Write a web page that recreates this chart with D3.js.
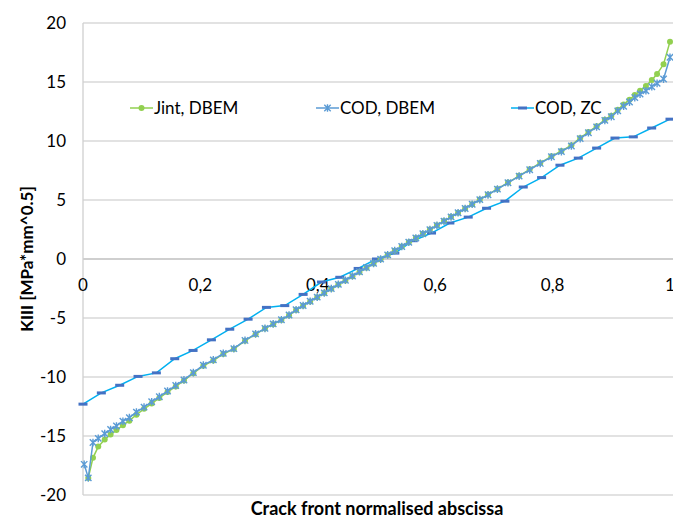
<!DOCTYPE html>
<html>
<head>
<meta charset="utf-8">
<script src="https://cdn.jsdelivr.net/npm/d3@7"></script>
<style>
  body { margin: 0; background: #fff; }
  svg { display: block; font-family: Lato, "Open Sans", sans-serif; }
</style>
</head>
<body>
<svg id="chart"></svg>
<script>
// crack front abscissa, shared by the two DBEM series
const xDbem = [0.009, 0.017, 0.026, 0.037, 0.047, 0.057, 0.068, 0.079, 0.091, 0.104,
  0.117, 0.130, 0.144, 0.158, 0.172, 0.188, 0.205, 0.222, 0.239, 0.257,
  0.276, 0.294, 0.310, 0.324, 0.338, 0.351, 0.363, 0.375, 0.387, 0.399,
  0.411, 0.423, 0.435, 0.447, 0.459, 0.471, 0.483, 0.495, 0.507, 0.519,
  0.531, 0.543, 0.555, 0.567, 0.579, 0.591, 0.603, 0.615, 0.627, 0.639,
  0.651, 0.663, 0.676, 0.690, 0.706, 0.724, 0.743, 0.761, 0.779, 0.798,
  0.815, 0.832, 0.847, 0.861, 0.875, 0.889, 0.900, 0.911, 0.921, 0.931,
  0.940, 0.949, 0.959, 0.969, 0.978, 0.989, 1.0];

const jintDbem = [-18.55, -16.85, -15.9, -15.3, -14.88, -14.5, -14.08, -13.7, -13.2, -12.7,
  -12.25, -11.78, -11.28, -10.8, -10.3, -9.68, -9.05, -8.6, -8.05, -7.62,
  -6.93, -6.37, -5.9, -5.52, -5.17, -4.77, -4.33, -3.96, -3.6, -3.25,
  -2.89, -2.53, -2.17, -1.82, -1.46, -1.1, -0.74, -0.38, -0.02, 0.34,
  0.7, 1.05, 1.41, 1.77, 2.13, 2.49, 2.85, 3.21, 3.57, 3.93,
  4.29, 4.65, 5.04, 5.46, 5.94, 6.48, 7.05, 7.6, 8.14, 8.7,
  9.15, 9.64, 10.26, 10.76, 11.26, 11.8, 12.15, 12.65, 13.1, 13.5,
  13.9, 14.25, 14.66, 15.17, 15.68, 16.5, 18.42];

// COD, DBEM has one extra node near x = 0
const xCod = [0.002].concat(xDbem);
const codDbem = [-17.4, -18.55, -15.55, -15.2, -14.8, -14.45, -14.15, -13.75, -13.45, -12.98, -12.55,
  -12.1, -11.67, -11.19, -10.72, -10.25, -9.63, -9.0, -8.55, -8.0, -7.6,
  -6.9, -6.35, -5.88, -5.5, -5.15, -4.75, -4.3, -3.94, -3.58, -3.23,
  -2.87, -2.51, -2.15, -1.8, -1.44, -1.08, -0.72, -0.37, -0.01, 0.35,
  0.71, 1.06, 1.42, 1.78, 2.14, 2.49, 2.85, 3.21, 3.57, 3.92,
  4.28, 4.64, 5.03, 5.44, 5.92, 6.46, 7.02, 7.56, 8.1, 8.66,
  9.1, 9.58, 10.2, 10.7, 11.2, 11.75, 12.06, 12.55, 12.95, 13.3,
  13.68, 13.98, 14.26, 14.6, 14.89, 15.25, 17.1];

// COD, ZC: 33 points
const xZc = [0, 0.03125, 0.0625, 0.09375, 0.125, 0.15625, 0.1875, 0.21875, 0.25, 0.28125,
  0.3125, 0.34375, 0.375, 0.40625, 0.4375, 0.46875, 0.5, 0.53125, 0.5625, 0.59375,
  0.625, 0.65625, 0.6875, 0.71875, 0.75, 0.78125, 0.8125, 0.84375, 0.875, 0.90625,
  0.9375, 0.96875, 1.0];
const codZc = [-12.3, -11.35, -10.7, -9.95, -9.65, -8.45, -7.75, -6.85, -5.95, -5.1,
  -4.1, -3.95, -3.0, -1.95, -1.55, -0.8, 0.0, 0.5, 1.55, 2.2,
  3.05, 3.55, 4.3, 4.9, 6.1, 6.9, 7.95, 8.55, 9.4, 10.25,
  10.35, 11.1, 11.85];

const yTicks = [-20, -15, -10, -5, 0, 5, 10, 15, 20];
const xTicks = [0, 0.2, 0.4, 0.6, 0.8, 1];
const seriesNames = ["Jint, DBEM", "COD, DBEM", "COD, ZC"];

let width = 673, height = 521,
    x = d3.scaleLinear().domain([0, 1]).range([83, 670]),
    y = d3.scaleLinear().domain([-20, 20]).range([495, 23]),
    svg = d3.select("#chart").attr("width", width).attr("height", height);

// horizontal gridlines
svg.append("g")
   .selectAll("line")
   .data(yTicks)
   .enter()
   .append("line")
   .attr("x1", 83).attr("x2", width)
   .attr("y1", d => y(d)).attr("y2", d => y(d))
   .attr("stroke", d => d === 0 ? "#bfbfbf" : "#d9d9d9")
   .attr("stroke-width", 1.3);

// left axis line
svg.append("line")
   .attr("x1", x(0)).attr("x2", x(0))
   .attr("y1", y(20)).attr("y2", y(-20))
   .attr("stroke", "#d0d0d0").attr("stroke-width", 1.3);

// y tick labels
svg.append("g")
   .selectAll("text")
   .data(yTicks)
   .enter()
   .append("text")
   .text(d => d)
   .attr("x", 66)
   .attr("y", d => y(d) + 6)
   .attr("text-anchor", "end")
   .attr("font-size", 17)
   .attr("fill", "#000");

// x tick labels sit under the zero line
svg.append("g")
   .selectAll("text")
   .data(xTicks)
   .enter()
   .append("text")
   .text(d => d3.format(".1~f")(d).replace(".", ","))
   .attr("x", d => x(d))
   .attr("y", y(0) + 32)
   .attr("text-anchor", "middle")
   .attr("font-size", 17)
   .attr("fill", "#000");

// axis titles
svg.append("text")
   .text("KIII [MPa*mm^0.5]")
   .attr("transform", "translate(33," + y(0) + ") rotate(-90)")
   .attr("text-anchor", "middle")
   .attr("font-size", 17)
   .attr("font-weight", "bold");

svg.append("text")
   .text("Crack front normalised abscissa")
   .attr("x", 377)
   .attr("y", 515)
   .attr("text-anchor", "middle")
   .attr("font-size", 18)
   .attr("font-weight", "bold");

let line = d3.line().x(d => x(d[0])).y(d => y(d[1]));

const zcData = xZc.map((v, i) => [v, codZc[i]]),
      codData = xCod.map((v, i) => [v, codDbem[i]]),
      jData = xDbem.map((v, i) => [v, jintDbem[i]]);

// COD, ZC
svg.append("path").datum(zcData)
   .attr("d", line).attr("fill", "none")
   .attr("stroke", "#00b0f0").attr("stroke-width", 1.5);
svg.append("g").selectAll("rect").data(zcData).enter()
   .append("rect")
   .attr("x", d => x(d[0]) - 4.5).attr("y", d => y(d[1]) - 1.5)
   .attr("width", 9).attr("height", 3)
   .attr("fill", "#4472c4");

// Jint, DBEM
svg.append("path").datum(jData)
   .attr("d", line).attr("fill", "none")
   .attr("stroke", "#92d050").attr("stroke-width", 1.5);
svg.append("g").selectAll("circle").data(jData).enter()
   .append("circle")
   .attr("cx", d => x(d[0])).attr("cy", d => y(d[1]))
   .attr("r", 3).attr("fill", "#92d050");

// COD, DBEM
function star(g, cx, cy, s) {
  g.append("path")
   .attr("d", `M${cx - s},${cy - s}L${cx + s},${cy + s}M${cx - s},${cy + s}L${cx + s},${cy - s}M${cx},${cy - s * 1.2}L${cx},${cy + s * 1.2}`)
   .attr("stroke", "#5b9bd5").attr("stroke-width", 1.4).attr("fill", "none");
}
svg.append("path").datum(codData)
   .attr("d", line).attr("fill", "none")
   .attr("stroke", "#5b9bd5").attr("stroke-width", 1.5);
let codMarks = svg.append("g");
codData.forEach(d => star(codMarks, x(d[0]), y(d[1]), 3.2));

// legend
let legend = svg.append("g");
const legX = [130, 316, 511], legY = 108;
legX.forEach((lx, i) => {
  let col = ["#92d050", "#5b9bd5", "#00b0f0"][i];
  legend.append("line")
        .attr("x1", lx).attr("x2", lx + 23)
        .attr("y1", legY).attr("y2", legY)
        .attr("stroke", col).attr("stroke-width", 1.5);
  if (i === 0) legend.append("circle").attr("cx", lx + 11.5).attr("cy", legY).attr("r", 3).attr("fill", col);
  if (i === 1) star(legend, lx + 11.5, legY, 3.2);
  if (i === 2) legend.append("rect").attr("x", lx + 7).attr("y", legY - 1.5).attr("width", 9).attr("height", 3).attr("fill", "#4472c4");
  legend.append("text")
        .text(seriesNames[i])
        .attr("x", lx + 24)
        .attr("y", legY + 6)
        .attr("font-size", 17);
});
</script>
</body>
</html>
